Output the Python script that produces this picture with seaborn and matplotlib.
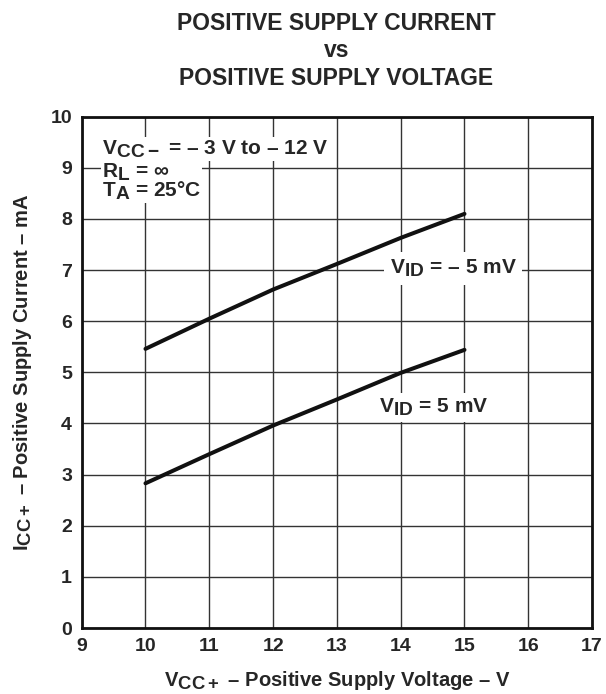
import numpy as np
import pandas as pd
import matplotlib
matplotlib.use("Agg")
import matplotlib.pyplot as plt
import matplotlib._mathtext as mathtext_impl
import seaborn as sns

# data (x = V_CC+ in V, y = I_CC+ in mA)
vcc = [10, 11, 12, 13, 14, 15]
icc_neg5mv = [5.46, 6.05, 6.62, 7.12, 7.63, 8.10]
icc_pos5mv = [2.83, 3.40, 3.96, 4.47, 4.99, 5.44]
series_names = ["VID = -5 mV", "VID = 5 mV"]

x_ticks = list(range(9, 18))
y_ticks = list(range(0, 11))

df = pd.DataFrame({
    "vcc": vcc + vcc,
    "icc": icc_neg5mv + icc_pos5mv,
    "series": [series_names[0]] * len(vcc) + [series_names[1]] * len(vcc),
})

sns.set_theme(style="white")
plt.rcParams["font.family"] = ["Liberation Sans", "DejaVu Sans"]
plt.rcParams["font.weight"] = "bold"
plt.rcParams["mathtext.fontset"] = "custom"
plt.rcParams["mathtext.rm"] = "Liberation Sans:bold"
plt.rcParams["mathtext.bf"] = "Liberation Sans:bold"
plt.rcParams["mathtext.it"] = "Liberation Sans:bold"
plt.rcParams["mathtext.default"] = "rm"
# subscripts in the datasheet are nearly full size
mathtext_impl.SHRINK_FACTOR = 0.92

fig = plt.figure(figsize=(6.06, 6.94), dpi=100)
ax = fig.add_axes([0.1348, 0.0951, 0.977 - 0.1348, 0.8318 - 0.0951])

sns.lineplot(data=df, x="vcc", y="icc", hue="series", palette=["#111111", "#111111"],
             linewidth=2.9, legend=False, ax=ax, zorder=3)

ax.set_xlim(9, 17)
ax.set_ylim(0, 10)
ax.set_xticks(x_ticks)
ax.set_yticks(y_ticks)
ax.grid(True, color="#333333", linewidth=1.0)
ax.tick_params(length=0, labelsize=14, pad=7)
for lab in ax.get_xticklabels() + ax.get_yticklabels():
    lab.set_fontweight("bold")
for s in ax.spines.values():
    s.set_color("#111111")
    s.set_linewidth(2)

ax.set_xlabel(r"$\mathrm{V_{CC+}}$ – Positive Supply Voltage – V", fontsize=14.5,
              fontweight="bold", labelpad=10)
ax.set_ylabel(r"$\mathrm{I_{CC+}}$ – Positive Supply Current – mA", fontsize=14.5,
              fontweight="bold", labelpad=12)

fig.text(0.555, 0.983, "POSITIVE SUPPLY CURRENT\nvs\nPOSITIVE SUPPLY VOLTAGE",
         ha="center", va="top", fontsize=16.5, fontweight="bold", linespacing=1.25)

# test conditions block
ax.text(9.32, 9.26, r"$\mathrm{V_{CC-}}$ = – 3 V to – 12 V", fontsize=15,
        fontweight="bold", va="baseline", ha="left",
        bbox=dict(facecolor="white", edgecolor="none", pad=1.0), zorder=4)
ax.text(9.32, 8.43, "$\\mathrm{R_L}$ = ∞\n$\\mathrm{T_A}$ = 25°C", fontsize=15,
        fontweight="bold", va="baseline", ha="left", linespacing=0.8,
        bbox=dict(facecolor="white", edgecolor="none", pad=0.5), zorder=4)

ax.text(13.83, 6.93, r"$\mathrm{V_{ID}}$ = – 5 mV", fontsize=15, fontweight="bold",
        ha="left", va="baseline", bbox=dict(facecolor="white", edgecolor="none", pad=4), zorder=4)
ax.text(13.66, 4.21, r"$\mathrm{V_{ID}}$ = 5 mV", fontsize=15, fontweight="bold",
        ha="left", va="baseline", bbox=dict(facecolor="white", edgecolor="none", pad=3), zorder=4)

fig.savefig("out.png", dpi=100)
